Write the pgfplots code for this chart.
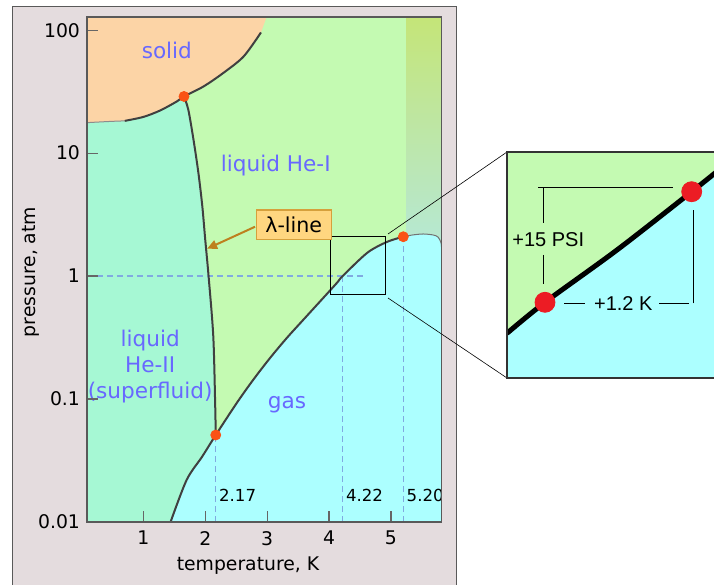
\documentclass[border=0pt]{standalone}
\usepackage{fontspec}
\setmainfont{DejaVu Sans}
\newfontfamily\arialfont{Liberation Sans}
\usepackage{pgfplots}
\pgfplotsset{compat=1.18}
\usetikzlibrary{arrows.meta}

\definecolor{framebg}{RGB}{228,220,222}
\definecolor{solidc}{RGB}{252,212,166}
\definecolor{heone}{RGB}{196,250,178}
\definecolor{hetwo}{RGB}{166,248,212}
\definecolor{gasc}{RGB}{172,255,255}
\definecolor{gradtop}{RGB}{197,229,118}
\definecolor{gradmid}{RGB}{192,231,160}
\definecolor{gradbot}{RGB}{182,232,212}
\definecolor{curvec}{RGB}{64,64,64}
\definecolor{dashc}{RGB}{128,170,225}
\definecolor{dotc}{RGB}{250,82,20}
\definecolor{labelc}{RGB}{104,104,255}
\definecolor{boxfill}{RGB}{255,214,128}
\definecolor{boxdraw}{RGB}{214,160,60}
\definecolor{arrowc}{RGB}{190,128,30}
\definecolor{insetdot}{RGB}{236,28,36}

\begin{document}
\begin{tikzpicture}[x=0.5pt,y=0.5pt]
\useasboundingbox (0,0) rectangle (714,585);
% outer frame
\fill[framebg] (12,-10) rectangle (456,578);
\draw[black!65, line width=0.5pt] (12,-10) -- (12,578) -- (456,578) -- (456,-10);

\begin{axis}[
  at={(43.5pt,31.5pt)}, anchor=south west,
  scale only axis, width=177.35pt, height=252.5pt,
  xmin=0.09, xmax=5.82, ymode=log, ymin=0.01, ymax=128,
  xtick={1,2,3,4,5},
  ytick={0.01,0.1,1,10,100}, yticklabels={0.01,0.1,1,10,100},
  yminorticks=false, tick pos=left, tick align=inside,
  major tick length=5.5pt,
  tick style={draw=black!60, line width=0.6pt},
  axis line style={draw=black!65, line width=0.7pt},
  ticklabel style={font=\fontsize{9.4}{11}\selectfont},
  xticklabel style={yshift=-1pt},
  /pgf/number format/assume math mode=true,
  axis on top,
]
% liquid He-I background
\addplot[draw=none, fill=heone] coordinates {(0,0.009) (6,0.009) (6,140) (0,140)} -- cycle;
% supercritical column
\addplot[draw=none, top color=gradtop, middle color=gradmid, bottom color=gradbot]
  coordinates {(5.25,1.8) (6,1.8) (6,140) (5.25,140)} -- cycle;
% He-II
\addplot[draw=none, fill=hetwo] coordinates {
  (0,0.009) (0,17.6) (0.46,18.1) (0.70,18.3) (1.0,19.7) (1.27,22.2) (1.54,26.3) (1.657,28.9)
  (1.727,22.5) (1.81,12.9) (1.89,6.89) (1.953,3.69) (2.0,1.98) (2.054,1.0) (2.13,0.324)
  (2.16,0.093) (2.17,0.051)
  (1.95,0.034) (1.70,0.022) (1.44,0.01) (1.44,0.009)} -- cycle;
% gas
\addplot[draw=none, fill=gasc] coordinates {
  (1.44,0.009) (1.44,0.01) (1.70,0.022) (1.95,0.034) (2.17,0.051) (2.51,0.093)
  (2.778,0.144) (3.048,0.216) (3.318,0.314) (3.586,0.442) (3.856,0.623) (4.126,0.879)
  (4.22,1.0) (4.62,1.55) (4.94,1.9) (5.2,2.09)
  (5.35,2.16) (5.52,2.2) (5.68,2.16) (5.76,2.08) (5.81,1.86) (5.82,1.6)
  (6,1.6) (6,0.009)} -- cycle;
% solid
\addplot[draw=none, fill=solidc] coordinates {
  (0,17.6) (0.46,18.1) (0.70,18.3) (1.0,19.7) (1.27,22.2) (1.54,26.3) (1.657,28.9)
  (1.97,34.8) (2.29,44.8) (2.62,61.1) (2.90,95.8) (3.02,140) (0,140)} -- cycle;

% dashed guide lines
\addplot[dashc, line width=0.7pt, dash pattern=on 3pt off 2pt] coordinates {(0.09,1) (4.55,1)};
\addplot[dashc, line width=0.7pt, dash pattern=on 3pt off 2pt] coordinates {(2.17,0.01) (2.17,0.051)};
\addplot[dashc, line width=0.7pt, dash pattern=on 3pt off 2pt] coordinates {(4.22,0.01) (4.22,1)};
\addplot[dashc, line width=0.7pt, dash pattern=on 3pt off 2pt] coordinates {(5.2,0.01) (5.2,2.09)};

% phase boundaries
\addplot[black!45, line width=0.5pt, smooth] coordinates {(0,17.6) (0.46,18.1) (0.70,18.3)};
\addplot[curvec, line width=1pt, smooth] coordinates {
  (0.70,18.3) (1.0,19.7) (1.27,22.2) (1.54,26.3) (1.657,28.9)
  (1.97,34.8) (2.29,44.8) (2.62,61.1) (2.90,95.8)};
\addplot[curvec, line width=1pt, smooth] coordinates {
  (1.657,28.9) (1.727,22.5) (1.81,12.9) (1.89,6.89) (1.953,3.69) (2.0,1.98) (2.054,1.0)
  (2.13,0.324) (2.16,0.093) (2.17,0.051)};
\addplot[curvec, line width=1pt, smooth] coordinates {
  (1.44,0.01) (1.70,0.022) (1.95,0.034) (2.17,0.051) (2.51,0.093)
  (2.778,0.144) (3.048,0.216) (3.318,0.314) (3.586,0.442) (3.856,0.623) (4.126,0.879)
  (4.22,1.0) (4.62,1.55) (4.94,1.9) (5.2,2.09)};
\addplot[black!55, line width=0.5pt, smooth] coordinates {
  (5.2,2.09) (5.35,2.16) (5.52,2.2) (5.68,2.16) (5.76,2.08) (5.81,1.86) (5.82,1.6)};

% points
\addplot[only marks, mark=*, mark size=2.5pt, color=dotc] coordinates {(1.657,28.9) (2.17,0.051) (5.2,2.09)};

% zoom box
\draw[black, line width=0.5pt] (axis cs:4.02,0.706) rectangle (axis cs:4.92,2.09);

% labels
\begin{scope}[font=\fontsize{10.8}{13}\selectfont, text=labelc]
\node at (axis cs:1.38,68) {solid};
\node at (axis cs:3.14,8.0) {liquid He-I};
\node[align=center] at (axis cs:1.11,0.185) {liquid\\He-II\\(superfluid)};
\node at (axis cs:3.32,0.09) {gas};
\end{scope}
\begin{scope}[font=\fontsize{8.3}{10}\selectfont, inner sep=1.5pt]
\node[anchor=west] at (axis cs:2.17,0.0164) {2.17};
\node[anchor=west] at (axis cs:4.22,0.0164) {4.22};
\node[anchor=west] at (axis cs:5.20,0.0164) {5.20};
\end{scope}
\draw[arrowc, line width=1pt, -{Triangle[length=5pt, width=4.5pt]}]
  (axis cs:2.805,2.52) -- (axis cs:2.03,1.67);
\node[fill=boxfill, draw=boxdraw, line width=0.6pt, inner xsep=4.5pt, minimum height=13pt,
  font=\fontsize{10.3}{12}\selectfont] at (axis cs:3.43,2.62) {λ-line};
\end{axis}

\node[font=\fontsize{9.4}{11}\selectfont] at (248,19) {temperature, K};
\node[font=\fontsize{9.4}{11}\selectfont, rotate=90] at (31,313) {pressure, atm};

% connector lines
\draw[black, line width=0.3pt] (388,351) -- (507,433);
\draw[black, line width=0.3pt] (388,287) -- (507,207);

% inset
\begin{axis}[
  at={(253.5pt,103.5pt)}, anchor=south west,
  scale only axis, width=106.5pt, height=113pt,
  xmin=0, xmax=213, ymin=0, ymax=226,
  xtick=\empty, ytick=\empty,
  axis line style={draw=black!80, line width=0.6pt},
  axis on top,
]
\addplot[draw=none, fill=heone] coordinates {(0,0) (213,0) (213,226) (0,226)} -- cycle;
\addplot[draw=none, fill=gasc] coordinates {
  (0,0) (0,44.7) (38,75.7) (110,128) (184.7,186.3) (213,209) (213,0)} -- cycle;
\addplot[black, line width=2.5pt, smooth] coordinates {
  (0,44.7) (38,75.7) (110,128) (184.7,186.3) (213,209)};
\addplot[only marks, mark=*, mark size=5pt, color=insetdot] coordinates {(38,75.7) (184.7,186.3)};
\begin{scope}[black, line width=0.5pt]
\draw (axis cs:31.3,190.7) -- (axis cs:165.7,190.7);
\draw (axis cs:36.3,190.7) -- (axis cs:36.3,155.3);
\draw (axis cs:36.3,123) -- (axis cs:36.3,94);
\draw (axis cs:57.3,74.7) -- (axis cs:78,74.7);
\draw (axis cs:152.3,74.7) -- (axis cs:182.3,74.7);
\draw (axis cs:186.3,74.7) -- (axis cs:186.3,168);
\end{scope}
\node[font=\arialfont\fontsize{10}{12}\selectfont] at (axis cs:41.3,138.7) {+15 PSI};
\node[font=\arialfont\fontsize{10}{12}\selectfont] at (axis cs:116.3,74.7) {+1.2 K};
\end{axis}
\end{tikzpicture}
\end{document}
